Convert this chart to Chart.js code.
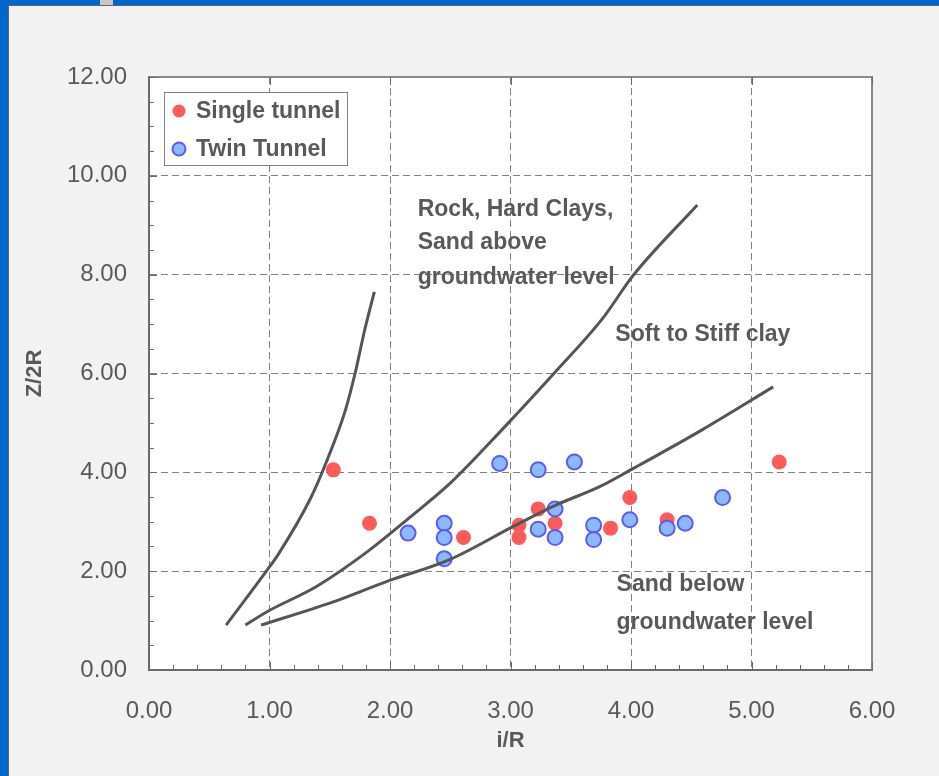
<!DOCTYPE html>
<html>
<head>
<meta charset="utf-8">
<script src="https://cdn.jsdelivr.net/npm/chart.js@4"></script>
<style>
  html, body { margin: 0; padding: 0; overflow: hidden; }
  #frame { position: absolute; left: 0; top: 0; width: 939px; height: 776px; background: #0066cc; }
  #tab { position: absolute; left: 100px; top: 0; width: 13px; height: 5px; background: #c8c8c8; }
  #panel { position: absolute; left: 8px; top: 5px; width: 930px; height: 770px;
           border-left: 1px solid #666; border-top: 1px solid #666; background: #f2f2f2; }
</style>
</head>
<body>
<div id="frame">
  <div id="tab"></div>
  <div id="panel"><canvas id="settlement-chart"></canvas></div>
</div>
<script>
// 資料：沉陷槽寬度參數 i/R 與覆土深度 Z/2R
const singleX = [1.53, 1.83, 2.61, 3.07, 3.07, 3.23, 3.37, 3.83, 3.99, 4.30, 5.23];
const singleY = [4.05, 2.97, 2.68, 2.93, 2.68, 3.26, 2.97, 2.87, 3.49, 3.04, 4.21];

const twinX = [2.15, 2.45, 2.45, 2.45, 2.91, 3.23, 3.23, 3.37, 3.37, 3.53, 3.69, 3.69, 3.99, 4.30, 4.45, 4.76];
const twinY = [2.77, 2.97, 2.68, 2.25, 4.18, 4.05, 2.85, 3.26, 2.68, 4.21, 2.93, 2.64, 3.04, 2.87, 2.97, 3.49];

// 三條分區界線
const curve1X = [0.64, 0.98, 1.07, 1.34, 1.49, 1.63, 1.71, 1.79, 1.87];
const curve1Y = [0.91, 2.02, 2.33, 3.47, 4.32, 5.26, 6.00, 6.88, 7.65];
const curve2X = [0.80, 0.98, 1.39, 1.81, 2.17, 2.50, 2.94, 3.36, 3.76, 4.02, 4.55];
const curve2Y = [0.91, 1.18, 1.69, 2.39, 3.10, 3.78, 4.89, 6.00, 7.10, 7.99, 9.41];
const curve3X = [0.93, 1.53, 1.97, 2.50, 3.02, 3.38, 3.74, 4.02, 4.59, 5.18];
const curve3Y = [0.91, 1.38, 1.79, 2.24, 2.90, 3.34, 3.71, 4.08, 4.86, 5.73];

// 區域文字（以資料座標定位）
const zoneText = ['Rock, Hard Clays,', 'Sand above', 'groundwater level', 'Soft to Stiff clay', 'Sand below', 'groundwater level'];
const zoneX = [2.23, 2.23, 2.23, 3.87, 3.88, 3.88];
const zoneY = [9.31, 8.64, 7.93, 6.78, 1.72, 0.95];

const xTickValues = [0, 1, 2, 3, 4, 5, 6];
const yTickValues = [0, 2, 4, 6, 8, 10, 12];

const TEXT_COLOR = '#595959';
const FONT = '"Liberation Sans", Arial, sans-serif';

const toPoints = (xs, ys) => xs.map((x, i) => ({ x: x, y: ys[i] }));

function lineDataset(xs, ys) {
    return {
        label: '',
        data: toPoints(xs, ys),
        showLine: true,
        borderColor: '#555555',
        borderWidth: 3,
        pointRadius: 0,
        cubicInterpolationMode: 'monotone',
        order: 0
    };
}

// 背景、外框與小刻度
const framePlugin = {
    id: 'frame',
    beforeDraw(chart) {
        const { ctx, chartArea: a } = chart;
        ctx.save();
        ctx.fillStyle = '#ffffff';
        ctx.fillRect(a.left, a.top, a.right - a.left, a.bottom - a.top);
        ctx.restore();
    },
    beforeDatasetsDraw(chart) {
        const { ctx, chartArea: a, scales } = chart;
        const xs = scales.x, ys = scales.y;
        ctx.save();
        ctx.strokeStyle = '#888888';
        ctx.lineWidth = 2;
        ctx.beginPath();
        ctx.moveTo(a.left, a.top); ctx.lineTo(a.right, a.top); ctx.lineTo(a.right, a.bottom);
        ctx.stroke();

        ctx.strokeStyle = '#6a6a6a';
        ctx.lineWidth = 1;
        ctx.beginPath();
        for (let v = 0; v <= 6.001; v += 0.2) {
            const px = Math.round(xs.getPixelForValue(v)) + 0.5;
            const major = Math.abs(v - Math.round(v)) < 0.01;
            ctx.moveTo(px, a.bottom);
            ctx.lineTo(px, a.bottom - (major ? 8 : 5));
            if (major) {
                ctx.moveTo(px, a.top);
                ctx.lineTo(px, a.top + 8);
            }
        }
        for (let v = 0; v <= 12.001; v += 0.5) {
            const py = Math.round(ys.getPixelForValue(v)) + 0.5;
            const major = Math.abs(v / 2 - Math.round(v / 2)) < 0.01;
            ctx.moveTo(a.left, py);
            ctx.lineTo(a.left + (major ? 8 : 5), py);
        }
        ctx.stroke();
        ctx.restore();
    },
    afterDatasetsDraw(chart) {
        const { ctx, chartArea: a, scales } = chart;
        ctx.save();
        // 區域文字
        ctx.fillStyle = TEXT_COLOR;
        ctx.font = 'bold 23px ' + FONT;
        ctx.textAlign = 'left';
        ctx.textBaseline = 'middle';
        zoneText.forEach((t, i) => {
            ctx.fillText(t, scales.x.getPixelForValue(zoneX[i]), scales.y.getPixelForValue(zoneY[i]));
        });

        // 圖例
        const items = chart.data.datasets.filter(d => !d.showLine);
        const bx = a.left + 15, by = a.top + 15, bw = 183, bh = 73;
        ctx.fillStyle = '#ffffff';
        ctx.fillRect(bx, by, bw, bh);
        ctx.strokeStyle = '#808080';
        ctx.lineWidth = 1;
        ctx.strokeRect(bx + 0.5, by + 0.5, bw, bh);
        items.forEach((d, i) => {
            const cy = by + 19 + i * 38;
            ctx.beginPath();
            ctx.arc(bx + 15, cy, 6.5, 0, Math.PI * 2);
            ctx.fillStyle = d.backgroundColor;
            ctx.fill();
            if (d.borderWidth) {
                ctx.strokeStyle = d.borderColor;
                ctx.lineWidth = d.borderWidth;
                ctx.stroke();
            }
            ctx.fillStyle = TEXT_COLOR;
            ctx.font = 'bold 23px ' + FONT;
            ctx.fillText(d.label, bx + 32, cy + 1);
        });
        ctx.restore();
    }
};

const edgeFree = (lo, hi) => (c) =>
    (c.tick && (c.tick.value === lo || c.tick.value === hi)) ? 'rgba(0,0,0,0)' : '#808080';

new Chart(document.getElementById('settlement-chart'), {
    type: 'scatter',
    data: {
        datasets: [
            {
                label: 'Single tunnel',
                data: toPoints(singleX, singleY),
                backgroundColor: '#ff5a5a',
                borderColor: '#ff5a5a',
                borderWidth: 0,
                pointRadius: 7.5,
                order: 2
            },
            {
                label: 'Twin Tunnel',
                data: toPoints(twinX, twinY),
                backgroundColor: '#8cb8ff',
                borderColor: '#5b5bef',
                borderWidth: 2,
                pointRadius: 7.5,
                order: 1
            },
            lineDataset(curve1X, curve1Y),
            lineDataset(curve2X, curve2Y),
            lineDataset(curve3X, curve3Y)
        ]
    },
    options: {
        responsive: true,
        maintainAspectRatio: false,
        animation: false,
        layout: { padding: { top: 71, right: 67, bottom: 0, left: 0 } },
        plugins: {
            legend: { display: false },
            tooltip: { enabled: false }
        },
        scales: {
            x: {
                type: 'linear',
                min: 0,
                max: 6,
                afterBuildTicks: (s) => { s.ticks = xTickValues.map(v => ({ value: v })); },
                afterFit: (s) => { s.height = 106; },
                grid: {
                    color: edgeFree(0, 6),
                    lineWidth: 1,
                    drawTicks: false
                },
                border: { color: '#6a6a6a', width: 2, dash: [7, 4] },
                ticks: {
                    padding: 27,
                    color: TEXT_COLOR,
                    font: { family: FONT, size: 24 },
                    callback: (v) => Number(v).toFixed(2)
                },
                title: {
                    display: true,
                    text: 'i/R',
                    color: TEXT_COLOR,
                    font: { family: FONT, size: 22, weight: 'bold' },
                    padding: { top: 0, bottom: 22 }
                }
            },
            y: {
                type: 'linear',
                min: 0,
                max: 12,
                afterBuildTicks: (s) => { s.ticks = yTickValues.map(v => ({ value: v })); },
                afterFit: (s) => { s.width = 140; },
                grid: {
                    color: edgeFree(0, 12),
                    lineWidth: 1,
                    drawTicks: false
                },
                border: { color: '#6a6a6a', width: 2, dash: [7, 4] },
                ticks: {
                    padding: 22,
                    color: TEXT_COLOR,
                    font: { family: FONT, size: 24 },
                    callback: (v) => Number(v).toFixed(2)
                },
                title: {
                    display: true,
                    text: 'Z/2R',
                    color: TEXT_COLOR,
                    font: { family: FONT, size: 22, weight: 'bold' },
                    padding: { top: 13, bottom: 0 }
                }
            }
        }
    },
    plugins: [framePlugin]
});
</script>
</body>
</html>
